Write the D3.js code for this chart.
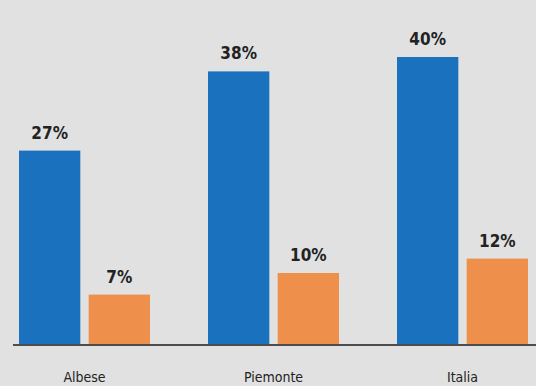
<!DOCTYPE html>
<html>
<head>
<meta charset="utf-8">
<script src="https://cdn.jsdelivr.net/npm/d3@7"></script>
<style>
  body { margin: 0; background: #e1e1e1; }
  svg { display: block; }
</style>
</head>
<body>
<div class="chart_area"></div>
<script>
var categories = ["Albese", "Piemonte", "Italia"];
var series = ["s1", "s2"];
var values_s1 = [27, 38, 40];
var values_s2 = [7, 10, 12];
var labels_s1 = ["27%", "38%", "40%"];
var labels_s2 = ["7%", "10%", "12%"];
var colors = { s1: "#1a71bd", s2: "#ee8f4c" };

var width = 536, height = 386;
var margin = { top: 0, right: 0, bottom: 41, left: 0 };

var svg = d3.select(".chart_area")
    .append("svg")
    .attr("width", width)
    .attr("height", height);

svg.append("rect")
    .attr("width", width)
    .attr("height", height)
    .attr("fill", "#e1e1e1");

var data = [];
for (i = 0; i < categories.length; i++) {
    data.push({ cat: categories[i], key: "s1", value: values_s1[i], label: labels_s1[i] });
    data.push({ cat: categories[i], key: "s2", value: values_s2[i], label: labels_s2[i] });
}

var x0 = d3.scaleBand()
    .domain(categories)
    .range([19, 528])
    .paddingInner(0.307)
    .paddingOuter(0);

var x1 = d3.scaleBand()
    .domain(series)
    .range([0, x0.bandwidth()])
    .paddingInner(0.12);

var y = d3.scaleLinear()
    .domain([0, 40])
    .range([height - margin.bottom, 57]);

var fontBold = "'Liberation Sans Narrow', 'DejaVu Sans Condensed', 'Roboto', sans-serif";

svg.selectAll(".bar_rect")
    .data(data)
    .enter()
    .append("rect")
    .attr("class", "bar_rect")
    .attr("x", function (d) { return x0(d.cat) + x1(d.key); })
    .attr("y", function (d) { return y(d.value); })
    .attr("width", x1.bandwidth())
    .attr("height", function (d) { return y(0) - y(d.value); })
    .attr("fill", function (d) { return colors[d.key]; });

svg.selectAll(".val_label")
    .data(data)
    .enter()
    .append("text")
    .attr("class", "val_label")
    .attr("x", function (d) { return x0(d.cat) + x1(d.key) + x1.bandwidth() / 2; })
    .attr("y", function (d) { return y(d.value) - 12; })
    .attr("text-anchor", "middle")
    .style("font-family", fontBold)
    .style("font-weight", "bold")
    .style("font-size", "17px")
    .style("fill", "#222")
    .text(function (d) { return d.label; });

// baseline
var x_axis = svg.append("g")
    .attr("class", "x-axis")
    .attr("transform", "translate(0," + y(0) + ")")
    .call(d3.axisBottom(x0).tickSize(0).tickPadding(27));

x_axis.select(".domain")
    .attr("d", "M13,0H536")
    .style("stroke", "#4d4d4d")
    .style("stroke-width", 2);

x_axis.selectAll("text")
    .style("font-family", fontBold)
    .style("font-size", "14px")
    .style("fill", "#222");
</script>
</body>
</html>
